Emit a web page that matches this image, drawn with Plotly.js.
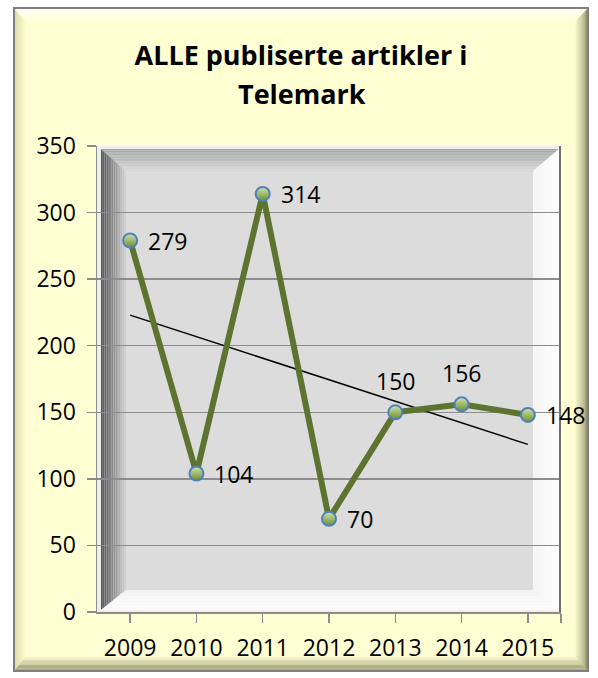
<!DOCTYPE html>
<html>
<head>
<meta charset="utf-8">
<script src="https://cdn.plot.ly/plotly-3.0.1.min.js"></script>
<style>html,body{margin:0;padding:0;background:#fff;}#chart{width:598px;height:678px;}</style>
</head>
<body>
<div id="chart"></div>
<script>
// ---- data ----
const years = ['2009','2010','2011','2012','2013','2014','2015'];
const articles = [279, 104, 314, 70, 150, 156, 148];
const yTicks = [0, 50, 100, 150, 200, 250, 300, 350];

// ---- label placement (style) ----
const labelSide = ['right','right','right','right','top','top','right'];

// ---- geometry ----
const W = 598, H = 678;
const L = 97, R = 561, T = 146, B = 612;
const px = x => (x - L) / (R - L);
const py = y => (B - y) / (B - T);

const xIdx = years.map((_, i) => i);

// linear trendline (least squares) from the data
const n = articles.length;
const mx = xIdx.reduce((a, b) => a + b, 0) / n;
const my = articles.reduce((a, b) => a + b, 0) / n;
let sxy = 0, sxx = 0;
for (let i = 0; i < n; i++) { sxy += (xIdx[i] - mx) * (articles[i] - my); sxx += (xIdx[i] - mx) ** 2; }
const slope = sxy / sxx, icpt = my - slope * mx;
const trendX = [xIdx[0], xIdx[n - 1]];
const trendY = trendX.map(x => icpt + slope * x);

// ---- helpers for bevel gradients ----
function hex2rgb(h){h=h.replace('#','');return [parseInt(h.substr(0,2),16),parseInt(h.substr(2,2),16),parseInt(h.substr(4,2),16)];}
function mix(a,b,t){const A=hex2rgb(a),B2=hex2rgb(b);return 'rgb('+A.map((v,i)=>Math.round(v+(B2[i]-v)*t)).join(',')+')';}
function lerpRect(o,i,f){return [o[0]+(i[0]-o[0])*f,o[1]+(i[1]-o[1])*f,o[2]+(i[2]-o[2])*f,o[3]+(i[3]-o[3])*f];}
function P(x,y){return px(x).toFixed(5)+','+py(y).toFixed(5);}
function poly(pts,color){
  return {type:'path',xref:'paper',yref:'paper',layer:'below',
    path:'M'+pts.map(p=>P(p[0],p[1])).join(' L')+' Z',
    fillcolor:color,line:{width:0}};
}
function bevel(o,i,cols,steps,gamma){
  const out=[];
  for(let s=0;s<steps;s++){
    const f0=s/steps,f1=(s+1)/steps;
    const a=lerpRect(o,i,f0),b=lerpRect(o,i,f1);
    const t=Math.pow((s+0.5)/steps,gamma||1);
    out.push(poly([[a[0],a[1]],[b[0],b[1]],[b[0],b[3]],[a[0],a[3]]],mix(cols.left[0],cols.left[1],t)));
    out.push(poly([[a[0],a[1]],[a[2],a[1]],[b[2],b[1]],[b[0],b[1]]],mix(cols.top[0],cols.top[1],t)));
    out.push(poly([[a[2],a[1]],[a[2],a[3]],[b[2],b[3]],[b[2],b[1]]],mix(cols.right[0],cols.right[1],t)));
    out.push(poly([[a[0],a[3]],[b[0],b[3]],[b[2],b[3]],[a[2],a[3]]],mix(cols.bottom[0],cols.bottom[1],t)));
  }
  return out;
}
function rect(x0,y0,x1,y1,fill,line,lw){
  return {type:'rect',xref:'paper',yref:'paper',layer:'below',x0:px(x0),x1:px(x1),y0:py(y1),y1:py(y0),
    fillcolor:fill||'rgba(0,0,0,0)',line:{color:line||'rgba(0,0,0,0)',width:lw||0}};
}

const yellow = '#ffffd3';
let shapes = [];
shapes.push(rect(14,8,588,671,yellow));
shapes = shapes.concat(bevel([14,8,588,671],[26,22,575,656],
  {left:['#d9d9a8',yellow],top:['#ffffff',yellow],right:['#7c7c58',yellow],bottom:['#8a8a60',yellow]},12,1));
shapes.push(rect(14,8,588,671,null,'#7f7f7f',2));
shapes.push(rect(L,T,R,B,'#eeeeee'));
shapes.push(rect(126,171,533,590,'#dcdcdc'));
shapes = shapes.concat(bevel([101,149,559,610],[126,171,533,590],
  {left:['#565656','#d4d4d4'],top:['#a4a4a4','#d8d8d8'],right:['#ffffff','#f6f6f6'],bottom:['#ffffff','#f4f4f4']},14,1.1));
shapes.push({type:'line',xref:'paper',yref:'paper',layer:'above',x0:px(560),x1:px(560),y0:py(B),y1:py(T),line:{color:'#6e6e6e',width:2}});

const font = 'Open Sans, Liberation Sans, sans-serif';
const fs = 23;

const annotations = articles.map((v,i)=>{
  if(labelSide[i]==='top'){
    return {x:xIdx[i],y:v,xref:'x',yref:'y',text:String(v),showarrow:false,xanchor:'center',yanchor:'bottom',yshift:13,
      font:{family:font,size:fs,color:'#000'}};
  }
  return {x:xIdx[i],y:v,xref:'x',yref:'y',text:String(v),showarrow:false,xanchor:'left',yanchor:'middle',xshift:16,
    font:{family:font,size:fs,color:'#000'}};
});
annotations.push({xref:'paper',yref:'paper',x:(302-L)/(R-L),y:py(94),text:'<b>Telemark</b>',showarrow:false,
  xanchor:'center',yanchor:'middle',font:{family:font,size:27,color:'#000'}});

const traces = [
  {x:trendX,y:trendY,type:'scatter',mode:'lines',line:{color:'#000',width:1.5},hoverinfo:'skip'},
  {x:xIdx,y:articles,type:'scatter',mode:'lines+markers',
   line:{color:'#5e7330',width:6},
   marker:{size:14,color:'#d2e4b0',gradient:{type:'vertical',color:'#6d8f2e'},line:{color:'#4f81bd',width:2}},
   hoverinfo:'x+y'}
];

const layout = {
  width:W,height:H,
  margin:{l:L,r:W-R,t:T,b:H-B,pad:0},
  paper_bgcolor:'#ffffff',plot_bgcolor:'rgba(0,0,0,0)',
  showlegend:false,
  title:{text:'<b>ALLE publiserte artikler i</b>',font:{family:font,size:27,color:'#000'},
    x:301/W,xanchor:'center',y:1-56/H,yanchor:'middle',xref:'container',yref:'container'},
  xaxis:{range:[-0.5,6.5],tickvals:xIdx.concat([6.5]),ticktext:years.concat(['']),
    showgrid:false,zeroline:false,showline:true,linecolor:'#8c8c8c',linewidth:1.5,
    ticks:'outside',ticklen:9,tickwidth:1.5,tickcolor:'#8c8c8c',
    tickfont:{family:font,size:fs,color:'#000'},ticklabelstandoff:6,fixedrange:true},
  yaxis:{range:[0,350],tickvals:yTicks,ticktext:yTicks.map(String),
    showgrid:true,gridcolor:'#8c8c8c',gridwidth:1.5,zeroline:false,showline:true,linecolor:'#8c8c8c',linewidth:1.5,
    ticks:'outside',ticklen:9,tickwidth:1.5,tickcolor:'#8c8c8c',
    tickfont:{family:font,size:fs,color:'#000'},ticklabelstandoff:6,fixedrange:true},
  shapes:shapes,
  annotations:annotations
};

Plotly.newPlot('chart',traces,layout,{displayModeBar:false,staticPlot:true});
</script>
</body>
</html>
